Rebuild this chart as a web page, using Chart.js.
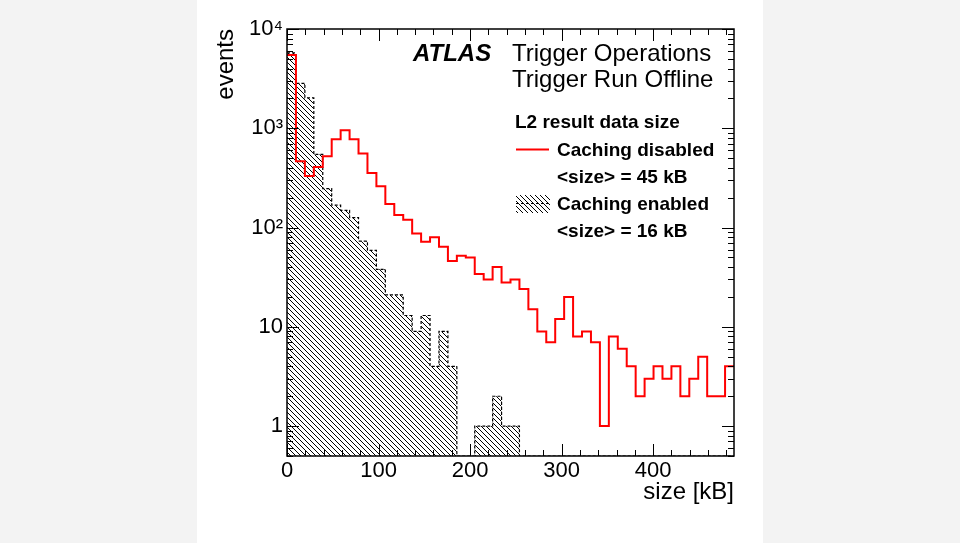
<!DOCTYPE html>
<html>
<head>
<meta charset="utf-8">
<script src="https://cdn.jsdelivr.net/npm/chart.js@4.4.0/dist/chart.umd.min.js"></script>
<style>
  html, body { margin: 0; padding: 0; background: #f3f3f3; }
  #wrap { position: relative; width: 960px; height: 543px; overflow: hidden; }
  #panel { position: absolute; left: 197px; top: 0; width: 566px; height: 543px; background: #fff; }
  #chart { position: absolute; left: 0; top: 0; }
</style>
</head>
<body>
<div id="wrap"><div id="panel"></div><canvas id="chart" width="960" height="543"></canvas></div>
<script>
// 50 bins of 10000 bytes (= 9.766 kB) each
const BIN_WIDTH = 10000 / 1024;
const N_BINS = 50;
const X_MAX = N_BINS * BIN_WIDTH;
const Y_MIN = 0.5;
const Y_MAX = 10000;

// events per bin
const cachingDisabled = [
  5460, 466, 331, 408, 523, 777, 957, 777, 557, 355,
  261, 173, 134, 120, 87, 72, 80, 64, 46, 52,
  50, 34, 30, 40, 28, 30, 24, 15, 9, 7,
  12, 20, 8, 9, 7, 1, 8, 6, 4, 2,
  3, 4, 3, 4, 2, 3, 5, 2, 2, 4
];
const cachingEnabled = [
  5750, 2830, 2025, 545, 247, 168, 149, 126, 73, 59,
  38, 21, 21, 13, 9, 13, 4, 9, 4, 0,
  0, 1, 1, 2, 1, 1, 0, 0, 0, 0,
  0, 0, 0, 0, 0, 0, 0, 0, 0, 0,
  0, 0, 0, 0, 0, 0, 0, 0, 0, 0
];

const xTicks = [0, 100, 200, 300, 400];
const yTicks = [1, 10, 100, 1000, 10000];
const yTickLabels = ["1", "10", "10\u00b2", "10\u00b3", "10\u2074"];

const FONT = "'Liberation Sans', Arial, Helvetica, sans-serif";
Chart.defaults.font.family = FONT;
Chart.defaults.color = "#000";

// histogram -> points on the left bin edges (+ closing point)
function toSteps(counts) {
    const pts = counts.map((c, i) => ({ x: i * BIN_WIDTH, y: c > 0 ? c : Y_MIN }));
    pts.push({ x: X_MAX, y: pts[pts.length - 1].y });
    return pts;
}

function makeHatch() {
    const n = 5;
    const c = document.createElement("canvas");
    c.width = n;
    c.height = n;
    const g = c.getContext("2d");
    g.fillStyle = "#000";
    for (let i = 0; i < n; i++) g.fillRect(i, i, 1, 1);
    return g.createPattern(c, "repeat");
}
const hatch = makeHatch();

// ROOT-style frame with ticks on all four sides
const frameTicks = {
    id: "frameTicks",
    afterDatasetsDraw(chart) {
        const { ctx, chartArea: a, scales: { x, y } } = chart;
        ctx.save();
        ctx.strokeStyle = "#000";
        ctx.lineWidth = 1;
        ctx.beginPath();
        for (let v = 0; v <= X_MAX; v += 20) {
            const px = Math.round(x.getPixelForValue(v)) + 0.5;
            const len = v % 100 === 0 ? 12 : 6;
            ctx.moveTo(px, a.bottom); ctx.lineTo(px, a.bottom - len);
            ctx.moveTo(px, a.top); ctx.lineTo(px, a.top + len);
        }
        for (let d = -1; d <= 4; d++) {
            for (let m = 1; m <= 9; m++) {
                const v = m * Math.pow(10, d);
                if (v < Y_MIN || v > Y_MAX) continue;
                const py = Math.round(y.getPixelForValue(v)) + 0.5;
                const len = m === 1 ? 12 : 6;
                ctx.moveTo(a.left, py); ctx.lineTo(a.left + len, py);
                ctx.moveTo(a.right, py); ctx.lineTo(a.right - len, py);
            }
        }
        ctx.stroke();
        ctx.lineWidth = 1.5;
        ctx.strokeRect(a.left, a.top, a.right - a.left, a.bottom - a.top);
        ctx.restore();
    }
};

// ATLAS label and legend
const labels = {
    id: "labels",
    afterDraw(chart) {
        const ctx = chart.ctx;
        ctx.save();
        ctx.fillStyle = "#000";
        ctx.textBaseline = "alphabetic";
        ctx.font = "italic bold 24px " + FONT;
        ctx.fillText("ATLAS", 413, 61);
        ctx.font = "24px " + FONT;
        ctx.fillText("Trigger Operations", 512, 61);
        ctx.fillText("Trigger Run Offline", 512, 87);

        ctx.font = "bold 19px " + FONT;
        ctx.fillText("L2 result data size", 515, 128);
        ctx.fillText("Caching disabled", 557, 156);
        ctx.fillText("<size> = 45 kB", 557, 183);
        ctx.fillText("Caching enabled", 557, 210);
        ctx.fillText("<size> = 16 kB", 557, 237);

        ctx.strokeStyle = "#ff0000";
        ctx.lineWidth = 2;
        ctx.beginPath();
        ctx.moveTo(516, 149.5); ctx.lineTo(549, 149.5);
        ctx.stroke();

        ctx.fillStyle = hatch;
        ctx.fillRect(516, 195, 34, 18);
        ctx.strokeStyle = "#000";
        ctx.lineWidth = 1.2;
        ctx.setLineDash([3, 2]);
        ctx.beginPath();
        ctx.moveTo(516, 203.5); ctx.lineTo(550, 203.5);
        ctx.stroke();
        ctx.restore();
    }
};

new Chart(document.getElementById("chart"), {
    type: "line",
    data: {
        datasets: [
            {
                label: "Caching disabled",
                data: toSteps(cachingDisabled),
                stepped: true,
                borderColor: "#ff0000",
                borderWidth: 2,
                pointRadius: 0,
                fill: false
            },
            {
                label: "Caching enabled",
                data: toSteps(cachingEnabled),
                stepped: true,
                borderColor: "#000",
                borderWidth: 1.2,
                borderDash: [3, 2],
                backgroundColor: hatch,
                pointRadius: 0,
                fill: "start"
            }
        ]
    },
    options: {
        responsive: false,
        animation: false,
        devicePixelRatio: 1,
        layout: { padding: { left: 200, right: 226, top: 29, bottom: 0 } },
        plugins: {
            legend: { display: false },
            tooltip: { enabled: false }
        },
        scales: {
            x: {
                type: "linear",
                min: 0,
                max: X_MAX,
                grid: { display: false, drawTicks: false },
                border: { display: false },
                afterBuildTicks: s => { s.ticks = xTicks.map(v => ({ value: v })); },
                afterFit: s => { s.height = 87; },
                ticks: {
                    padding: 2,
                    maxRotation: 0,
                    autoSkip: false,
                    font: { size: 22 },
                    callback: (v, i) => String(xTicks[i])
                },
                title: {
                    display: true,
                    text: "size [kB]",
                    align: "end",
                    font: { size: 24 },
                    padding: { top: 0, bottom: 36 }
                }
            },
            y: {
                type: "logarithmic",
                min: Y_MIN,
                max: Y_MAX,
                grid: { display: false, drawTicks: false },
                border: { display: false },
                afterBuildTicks: s => { s.ticks = yTicks.map(v => ({ value: v })); },
                afterFit: s => { s.width = 87; },
                ticks: {
                    padding: 4,
                    autoSkip: false,
                    font: { size: 22 },
                    callback: (v, i) => yTickLabels[i]
                },
                title: {
                    display: true,
                    text: "events",
                    align: "end",
                    font: { size: 24 },
                    padding: { top: 12, bottom: 0 }
                }
            }
        }
    },
    plugins: [frameTicks, labels]
});
</script>
</body>
</html>
